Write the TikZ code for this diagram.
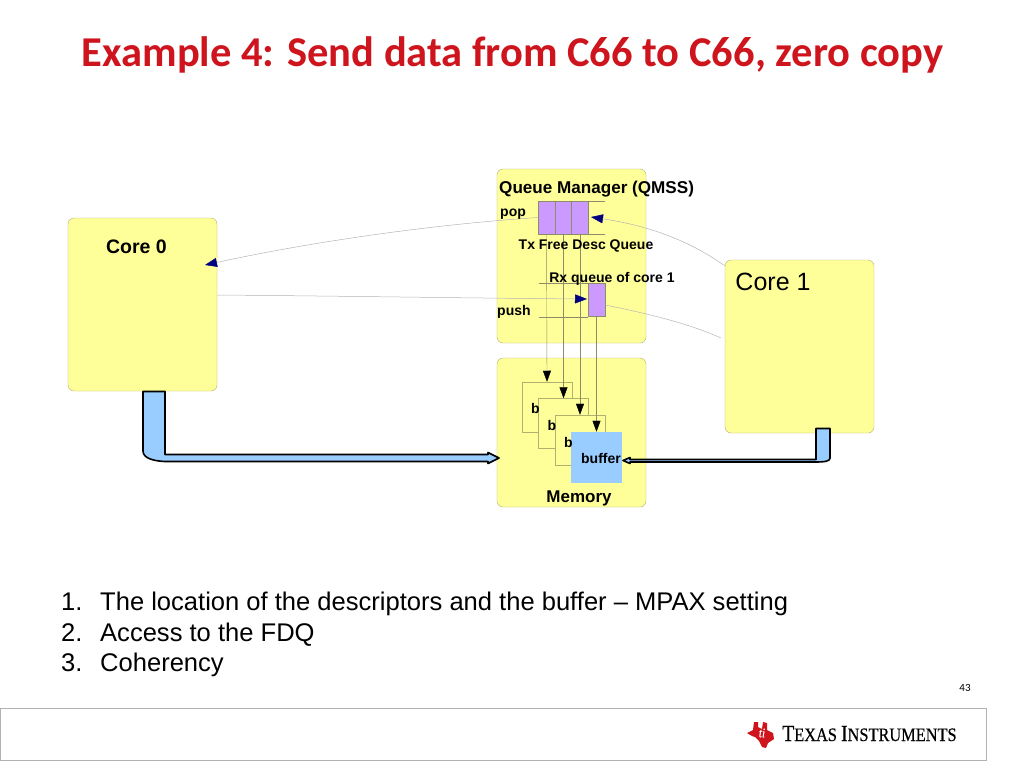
\documentclass[tikz,border=0pt]{standalone}
\usepackage{fontspec}
\setmainfont{Liberation Sans}
\newfontfamily\titlefont{Carlito}
\newfontfamily\logofont[FakeStretch=0.86,FakeBold=0.5]{Liberation Serif}
\usetikzlibrary{arrows.meta}
\definecolor{boxyellow}{HTML}{FFFF99}
\definecolor{boxedge}{HTML}{B0B070}
\definecolor{queuepurple}{HTML}{CC99FF}
\definecolor{bufblue}{HTML}{99CCFF}
\definecolor{tired}{HTML}{CE141C}
\definecolor{tipnavy}{HTML}{000080}
\definecolor{wiregray}{HTML}{B4B4B4}
\definecolor{railgray}{HTML}{8C8C6A}
\tikzset{
	unit/.style={draw=boxedge, fill=boxyellow, rounded corners=6pt, minimum width=149pt, inner sep=0pt},
	queue/.style={draw=railgray, fill=queuepurple, line width=0.4pt, inner sep=0pt, minimum height=33pt},
	buf/.style={draw=boxedge, fill=boxyellow, line width=0.5pt, inner sep=0pt, minimum width=50pt, minimum height=50pt},
	lab/.style={font=\fontsize{14}{14}\selectfont\bfseries, inner sep=0pt},
	small lab/.style={font=\fontsize{14}{14}\selectfont\bfseries, inner sep=0pt},
	item/.style={font=\fontsize{25.55}{25.55}\selectfont, inner sep=0pt, anchor=base west},
	wire/.style={draw=wiregray, line width=0.5pt},
	rail/.style={draw=railgray, line width=0.4pt},
	navytip/.style={-{Triangle[color=tipnavy,length=12pt,width=9pt]}},
	fat/.style={draw=black, fill=bufblue, line width=1.6pt, line join=round}
}
\begin{document}
\begin{tikzpicture}[x=1pt, y=-1pt]
	\useasboundingbox (0,0) rectangle (1024,768);
	% title
	\node[inner sep=0pt, text=tired, font=\fontsize{42.5}{42.5}\selectfont\titlefont\bfseries] (title) at (512.5,55) {Example 4: Send data from C66 to C66, zero copy};
	% boxes
	\node[unit, minimum height=173pt] (core0) at (142.5,304.5) {};
	\node[unit, minimum height=173pt] (core1) at (799.5,346.5) {};
	\node[unit, minimum height=174pt] (qmss) at (571.5,256) {};
	\node[unit, minimum height=149pt] (mem) at (571.5,432.5) {};
	% buffers
	\node[buf] (buf0) at (547,407) {};
	\node[buf] (buf1) at (563.5,423.5) {};
	\node[buf] (buf2) at (580,440) {};
	\node[buf, fill=bufblue, draw=bufblue] (buf3) at (596.5,457) {};
	% queues
	\foreach \name/\xx in {txa/546.5, txb/563.5, txc/580}
		\node[queue, minimum width=17pt] (\name) at (\xx,217.5) {};
	\node[queue, minimum width=17pt] (rxq) at (596.5,300) {};
	\draw[rail] (txc.north east) -- +(16,0) (txc.south east) -- +(16,0);
	\draw[rail] (rxq.north west) -- +(-49,0) (rxq.south west) -- +(-49,0);
	% rails down to the buffers
	\foreach \from/\to in {txa/buf0, txb/buf1, txc/buf2, rxq/buf3}
		\draw[rail, -{Triangle[color=black,length=11pt,width=8pt]}] (\from.south) -- (\to.north);
	% thin connectors
	\coordinate (popend) at (205,265);
	\coordinate (pushstart) at (217,295);
	\coordinate (pushend) at (587,299);
	\coordinate (backstart) at (725,266);
	\coordinate (backend) at (591,217);
	\coordinate (rxstart) at (605,305);
	\coordinate (rxend) at (721,338);
	\draw[wire, navytip] (txa.west) .. controls (440,224) and (320,240) .. (popend);
	\draw[wire, navytip] (pushstart) .. controls (340,296) and (460,298) .. (pushend);
	\draw[wire, navytip] (backstart) .. controls (690,241) and (650,226) .. (backend);
	\draw[wire] (rxstart) .. controls (650,314) and (690,324) .. (rxend);
	% fat arrows
	\draw[fat] (143,391.5) -- (165,391.5) -- (165,454.5) -- (488,454.5) -- (488,452.5) -- (499,458) -- (488,463.5) -- (488,461.5) -- (165,461.5) .. controls (153,461) and (143,458) .. (143,451) -- cycle;
	\draw[fat] (816,428.5) -- (830,428.5) -- (830,458) .. controls (830,461) and (826,462) .. (815,462) -- (630,462) -- (630,463.5) -- (623,460.5) -- (630,457.5) -- (630,459.5) -- (816,459.5) -- cycle;
	% labels
	\node[font=\fontsize{19.5}{19.5}\selectfont\bfseries, inner sep=0pt] (core0lab) at (136.5,246.5) {Core 0};
	\node[font=\fontsize{25}{25}\selectfont, inner sep=0pt] (core1lab) at (773,282) {Core 1};
	\node[font=\fontsize{17.1}{17.1}\selectfont\bfseries, inner sep=0pt, anchor=west] (qmsslab) at (499,189.5) {Queue Manager (QMSS)};
	\node[lab, anchor=west] (poplab) at (500,214) {pop};
	\node[small lab] (txlab) at (586,245.5) {Tx Free Desc Queue};
	\node[small lab] (rxlab) at (612,279) {Rx queue of core 1};
	\node[lab, anchor=west] (pushlab) at (497,311.5) {push};
	\node[lab] (b0lab) at (535.5,408.5) {b};
	\node[lab] (b1lab) at (552,425.5) {b};
	\node[lab] (b2lab) at (568.5,442) {b};
	\node[lab] (b3lab) at (601,458.5) {buffer};
	\node[font=\fontsize{17}{17}\selectfont\bfseries, inner sep=0pt] (memlab) at (579,498.5) {Memory};
	% list
	\node[item] (n1) at (61,610.5) {1.};
	\node[item] (t1) at (100,610.5) {The location of the descriptors and the buffer -- MPAX setting};
	\node[item] (n2) at (61,641) {2.};
	\node[item] (t2) at (100,641) {Access to the FDQ};
	\node[item] (n3) at (61,671.5) {3.};
	\node[item] (t3) at (100,671.5) {Coherency};
	\node[inner sep=0pt, font=\fontsize{11}{11}\selectfont\titlefont] (pagenum) at (965,688) {43};
	% footer
	\node[draw=black!30, line width=1pt, minimum width=986pt, minimum height=52pt, inner sep=0pt] (footer) at (493,734) {};
	\fill[tired] (747,733) -- (753,730) -- (754,722) -- (758,722) -- (758,727) -- (762,729) -- (763,722) -- (767,723) -- (767,730) -- (773,733) -- (774,739) -- (768,743) -- (766,748) -- (762,747) -- (759,741) -- (755,737) -- (752,736) -- cycle;
	\node[inner sep=0pt, text=white, font=\fontsize{13}{13}\selectfont\logofont\itshape] (logoti) at (762,733) {ti};
	\node[inner sep=0pt, font=\fontsize{23}{23}\selectfont\logofont, anchor=base west] (logotext) at (782,741) {T\fontsize{19}{19}\selectfont EXAS \fontsize{23}{23}\selectfont I\fontsize{19}{19}\selectfont NSTRUMENTS};
\end{tikzpicture}
\end{document}
